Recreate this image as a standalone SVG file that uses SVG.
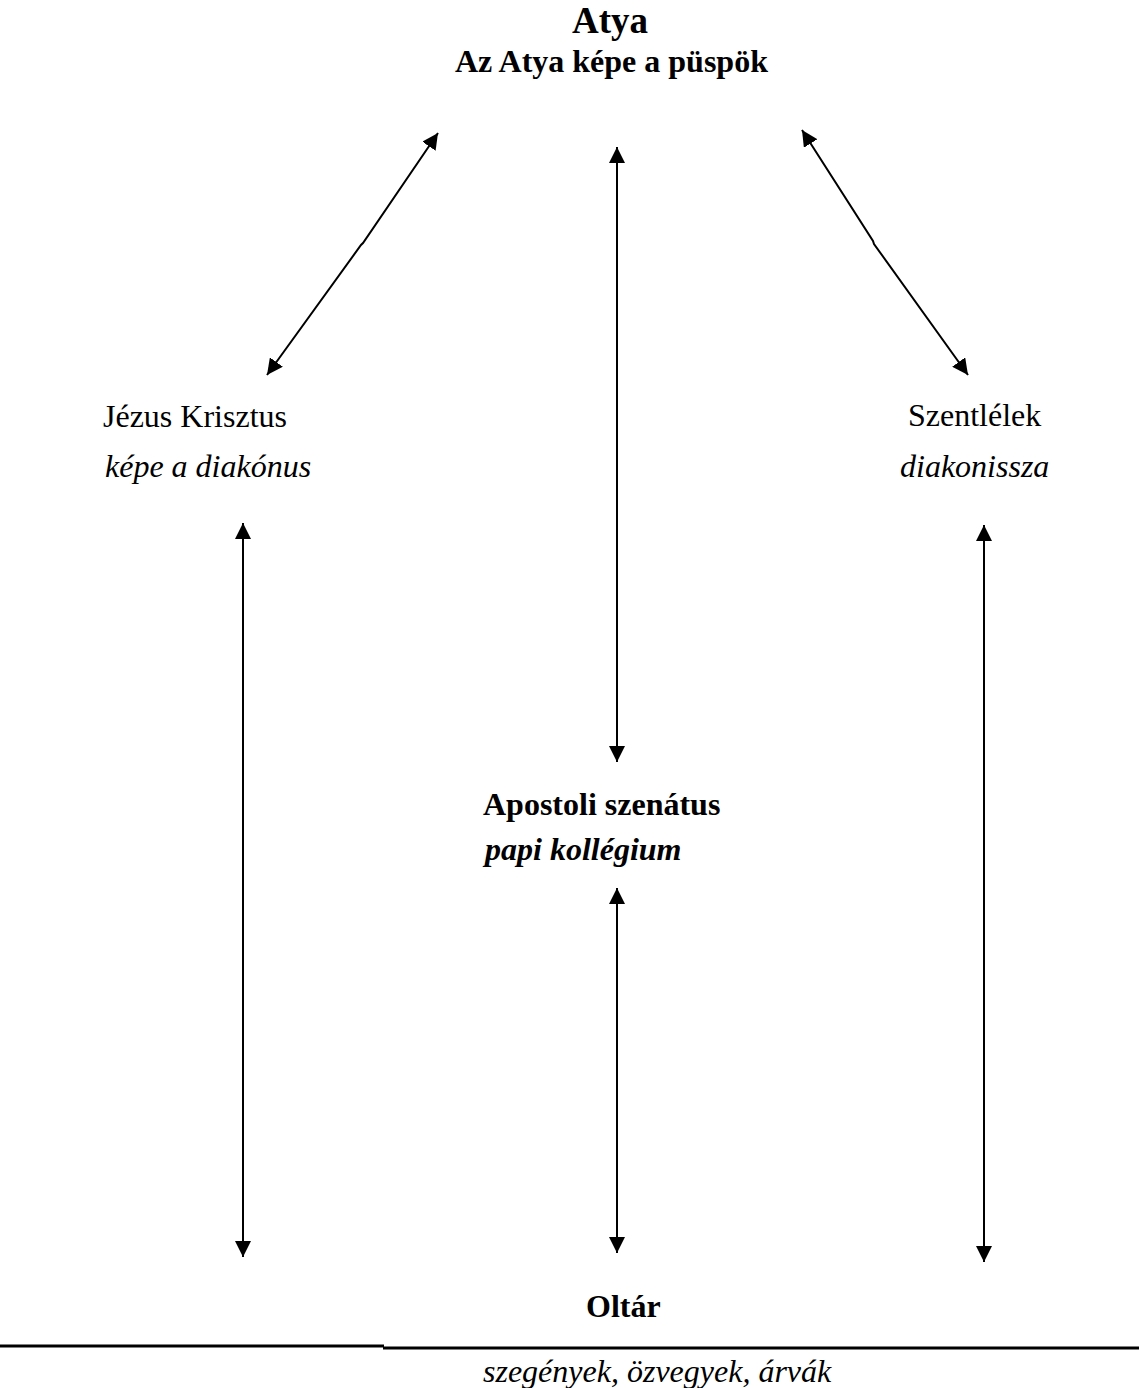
<svg xmlns="http://www.w3.org/2000/svg" width="1139" height="1388" viewBox="0 0 1139 1388">
  <style>
    text { font-family: "Liberation Serif", "Times New Roman", serif; font-size: 32px; fill: #000; }
    .b { font-weight: bold; }
    .i { font-style: italic; }
    .conn { stroke: #000; stroke-width: 2; fill: none; }
    .rule { stroke: #000; stroke-width: 3; fill: none; }
  </style>
  <defs>
    <marker id="ah" markerUnits="userSpaceOnUse" markerWidth="16" markerHeight="16" viewBox="0 0 16 16" refX="16" refY="8" orient="auto-start-reverse">
      <path d="M0,0 L16,8 L0,16 z" fill="#000"/>
    </marker>
  </defs>
  <rect width="1139" height="1388" fill="#fff"/>

  <g id="connectors">
    <path class="conn" d="M438,133 L363,243 L361,245 L267,375" marker-start="url(#ah)" marker-end="url(#ah)"/>
    <path class="conn" d="M802,130 L873,241 L874,244 L968,375" marker-start="url(#ah)" marker-end="url(#ah)"/>
    <line class="conn" x1="617" y1="147" x2="617" y2="762" marker-start="url(#ah)" marker-end="url(#ah)"/>
    <line class="conn" x1="617" y1="888" x2="617" y2="1253" marker-start="url(#ah)" marker-end="url(#ah)"/>
    <line class="conn" x1="243" y1="523" x2="243" y2="1257" marker-start="url(#ah)" marker-end="url(#ah)"/>
    <line class="conn" x1="984" y1="525" x2="984" y2="1262" marker-start="url(#ah)" marker-end="url(#ah)"/>
  </g>

  <g id="node-atya">
    <text class="b" x="572" y="33" style="font-size:37px">Atya</text>
    <text class="b" x="455" y="72">Az Atya képe a püspök</text>
  </g>
  <g id="node-jezus">
    <text x="103" y="427">Jézus Krisztus</text>
    <text class="i" x="105" y="477">képe a diakónus</text>
  </g>
  <g id="node-szentlelek">
    <text x="908" y="426">Szentlélek</text>
    <text class="i" x="900" y="477">diakonissza</text>
  </g>
  <g id="node-apostoli">
    <text class="b" x="483" y="815">Apostoli szenátus</text>
    <text class="b i" x="485" y="860">papi kollégium</text>
  </g>
  <g id="node-oltar">
    <text class="b" x="586" y="1317">Oltár</text>
  </g>
  <g id="divider">
    <line class="rule" x1="0" y1="1346" x2="384" y2="1346"/>
    <line class="rule" x1="383" y1="1348" x2="1139" y2="1348"/>
  </g>
  <g id="node-szegenyek">
    <text class="i" x="483" y="1382">szegények, özvegyek, árvák</text>
  </g>
</svg>
